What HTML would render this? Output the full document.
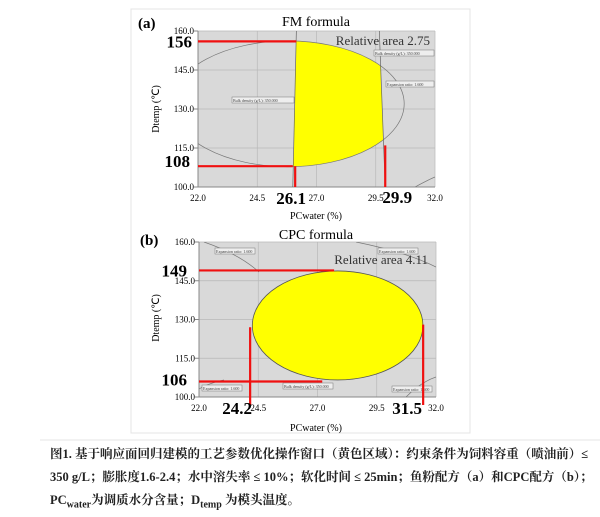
<!DOCTYPE html>
<html><head><meta charset="utf-8">
<style>
body{margin:0;background:#fff;width:600px;height:513px;overflow:hidden;font-family:"Liberation Serif","Noto Serif CJK SC",serif;}
#cap{position:absolute;left:50px;top:443px;width:550px;font-size:12.5px;font-weight:bold;line-height:23px;color:#222;font-family:"Liberation Serif","Noto Serif CJK SC",serif;}
</style></head><body>
<svg id="chart" width="600" height="513" style="position:absolute;left:0;top:0" font-family="Liberation Serif, serif">
<rect x="131" y="9" width="339" height="424" fill="#fff" stroke="#e4e4e4"/>
<line x1="40" y1="440" x2="600" y2="440" stroke="#e6e6e6"/>
<g id="pa"></g>
<g id="pb"></g>
</svg>
<div id="cap">图1. 基于响应面回归建模的工艺参数优化操作窗口（黄色区域）：约束条件为饲料容重（喷油前）≤ 350 g/L；膨胀度1.6-2.4；水中溶失率 ≤ 10%；软化时间 ≤ 25min；鱼粉配方（a）和CPC配方（b）；PC<sub style="font-size:10px">water</sub>为调质水分含量；D<sub style="font-size:10px">temp</sub> 为模头温度。</div>
<script>
const xTicks=[22.0,24.5,27.0,29.5,32.0];
const yTicks=[100.0,115.0,130.0,145.0,160.0];
// panel a
const aEllipse=[25.8,132,4.9,24.2]; // cx, cy, rx, ry
const aWindow=[26.1,29.75];
const aH=[156,108];
const aV=[26.1,29.9];
const aHEnd=[26.15,26.0];
const aVTop=[108,116];
// panel b
const bEllipse=[27.85,127.7,3.6,21.1];
const bH=[149,106];
const bHEnd=[27.7,27.2];
const bV=[24.2,31.5];
const bVTop=[127,128];
const NS='http://www.w3.org/2000/svg';
function mk(p,t,a,txt){const e=document.createElementNS(NS,t);for(const k in a)e.setAttribute(k,a[k]);if(txt!==undefined)e.textContent=txt;p.appendChild(e);return e;}
function panel(g,L,R,T,B,id){
 const sx=v=>L+(v-22)/10*(R-L), sy=v=>B-(v-100)/60*(B-T);
 let e=mk(g,'rect',{x:L,y:T,width:R-L,height:B-T,fill:'#d9d9d9'});
 
 const cp=mk(g,'clipPath',{id:'c'+id});mk(cp,'rect',{x:L,y:T,width:R-L,height:B-T});
 xTicks.forEach(v=>{e=mk(g,'line',{x1:sx(v),x2:sx(v),y1:T,y2:B,stroke:'#b8b8b8','stroke-width':0.7});
  
  e=mk(g,'text',{x:sx(v),y:B+14,'font-size':9,'text-anchor':'middle'},v.toFixed(1));
  });
 yTicks.forEach(v=>{e=mk(g,'line',{y1:sy(v),y2:sy(v),x1:L,x2:R,stroke:'#b8b8b8','stroke-width':0.7});
  
  mk(g,'line',{y1:sy(v),y2:sy(v),x1:L-4,x2:L,stroke:'#888'});
  e=mk(g,'text',{x:L-4,y:sy(v)+3,'font-size':9,'text-anchor':'end'},v.toFixed(1));
  });
 mk(g,'line',{x1:L,x2:L,y1:T,y2:B,stroke:'#888'});mk(g,'line',{x1:L,x2:R,y1:B,y2:B,stroke:'#888'});
 return {sx,sy};
}
function bigLbl(g,x,y,t,anchor,name){const e=mk(g,'text',{x,y,'font-size':17,'font-weight':'bold','text-anchor':anchor||'middle'},t);
 }
function red(g,x1,y1,x2,y2){const e=mk(g,'line',{x1,y1,x2,y2,stroke:'#f01010','stroke-width':2.2});
 }
function boxLbl(g,x,y,t,w){const e=mk(g,'rect',{x,y,width:w,height:6,fill:'#eee',stroke:'#777','stroke-width':0.5});
 
 mk(g,'text',{x:x+1,y:y+5,'font-size':4,fill:'#444'},t);}
// Panel A
(function(){
 const g=document.getElementById('pa');const L=198,R=435,T=31,B=187;
 const {sx,sy}=panel(g,L,R,T,B,'a');
 const rx=aEllipse[2]/10*(R-L), ry=aEllipse[3]/60*(B-T);
 const cg=mk(g,'g',{'clip-path':'url(#ca)'});
 const wa=mk(cg,'clipPath',{id:'wa'});mk(wa,'polygon',{points:`${sx(aWindow[0]+0.05)},${T} ${sx(aWindow[0]-0.1)},${B} ${sx(aWindow[1]+0.15)},${B} ${sx(aWindow[1]-0.1)},${T}`});
 let e=mk(cg,'ellipse',{cx:sx(aEllipse[0]),cy:sy(aEllipse[1]),rx,ry,fill:'#ffff00','clip-path':'url(#wa)'});
 
 e=mk(cg,'ellipse',{cx:sx(aEllipse[0]),cy:sy(aEllipse[1]),rx,ry,fill:'none',stroke:'#777','stroke-width':0.7});
 
 mk(cg,'line',{x1:sx(aWindow[0]+0.05),y1:T,x2:sx(aWindow[0]-0.1),y2:B,stroke:'#666','stroke-width':0.7});
 mk(cg,'line',{x1:sx(aWindow[1]-0.1),y1:T,x2:sx(aWindow[1]+0.15),y2:B,stroke:'#666','stroke-width':0.7});
 mk(cg,'path',{d:`M${R-20},${B} Q${R-5},${B-8} ${R},${B-10}`,fill:'none',stroke:'#777','stroke-width':0.7});
 boxLbl(g,232,97,'Bulk density (g/L): 350.000',62);boxLbl(g,374,50,'Bulk density (g/L): 350.000',60);boxLbl(g,386,81,'Expansion ratio: 1.600',48);
 for(let i=0;i<2;i++){red(g,L,sy(aH[i]),sx(aHEnd[i]),sy(aH[i]));red(g,sx(aV[i]),sy(aVTop[i]),sx(aV[i]),B);}
 bigLbl(g,192,sy(aH[0])+6,String(aH[0]),'end','y-value-label');bigLbl(g,190,sy(aH[1])+1,String(aH[1]),'end','y-value-label');
 bigLbl(g,sx(aV[0])-4,B+17,aV[0].toFixed(1),'middle','x-value-label');bigLbl(g,sx(aV[1])+12,B+16,aV[1].toFixed(1),'middle','x-value-label');
 e=mk(g,'text',{x:316,y:26,'font-size':14,'text-anchor':'middle'},'FM formula');
 e=mk(g,'text',{x:430,y:45,'font-size':13,'text-anchor':'end',fill:'#333'},'Relative area 2.75');
 e=mk(g,'text',{x:138,y:28,'font-size':15,'font-weight':'bold'},'(a)');
 e=mk(g,'text',{x:316,y:219,'font-size':10,'text-anchor':'middle'},'PCwater (%)');
 e=mk(g,'text',{x:0,y:0,'font-size':10,'text-anchor':'middle',transform:'translate(159,109) rotate(-90)'},'Dtemp (℃)');
})();
// Panel B
(function(){
 const g=document.getElementById('pb');const L=199,R=436,T=242,B=397;
 const {sx,sy}=panel(g,L,R,T,B,'b');
 const cg=mk(g,'g',{'clip-path':'url(#cb)'});
 mk(cg,'path',{d:`M${L+5},${T} Q${L+40},${T+12} ${L+60},${T+30}`,fill:'none',stroke:'#777','stroke-width':0.7});
 mk(cg,'path',{d:`M${R-80},${T} Q${R-30},${T+10} ${R},${T+25}`,fill:'none',stroke:'#777','stroke-width':0.7});
 mk(cg,'path',{d:`M${L},${B-8} Q${L+10},${B-14} ${L+25},${B-17}`,fill:'none',stroke:'#777','stroke-width':0.7});
 mk(cg,'path',{d:`M${R-30},${B} Q${R-15},${B-15} ${R},${B-20}`,fill:'none',stroke:'#777','stroke-width':0.7});
 let e=mk(cg,'ellipse',{cx:sx(bEllipse[0]),cy:sy(bEllipse[1]),rx:bEllipse[2]/10*(R-L),ry:bEllipse[3]/60*(B-T),fill:'#ffff00',stroke:'#555','stroke-width':0.8});
 
 boxLbl(g,215,248,'Expansion ratio: 1.600',40);boxLbl(g,378,248,'Expansion ratio: 1.600',40);boxLbl(g,202,385,'Expansion ratio: 1.600',40);
 boxLbl(g,283,383,'Bulk density (g/L): 350.000',50);boxLbl(g,392,386,'Expansion ratio: 1.600',40);
 for(let i=0;i<2;i++){red(g,L,sy(bH[i]),sx(bHEnd[i]),sy(bH[i]));red(g,sx(bV[i])-1,sy(bVTop[i]),sx(bV[i])-1,B+8);}
 bigLbl(g,187,sy(bH[0])+6,String(bH[0]),'end','y-value-label');bigLbl(g,187,sy(bH[1])+4,String(bH[1]),'end','y-value-label');
 bigLbl(g,sx(bV[0])-14,B+17,bV[0].toFixed(1),'middle','x-value-label');bigLbl(g,sx(bV[1])-17,B+17,bV[1].toFixed(1),'middle','x-value-label');
 e=mk(g,'text',{x:316,y:239,'font-size':14,'text-anchor':'middle'},'CPC formula');
 e=mk(g,'text',{x:428,y:264,'font-size':13,'text-anchor':'end',fill:'#333'},'Relative area 4.11');
 e=mk(g,'text',{x:140,y:245,'font-size':15,'font-weight':'bold'},'(b)');
 e=mk(g,'text',{x:316,y:431,'font-size':10,'text-anchor':'middle'},'PCwater (%)');
 e=mk(g,'text',{x:0,y:0,'font-size':10,'text-anchor':'middle',transform:'translate(159,318) rotate(-90)'},'Dtemp (℃)');
})();
</script>
</body></html>
